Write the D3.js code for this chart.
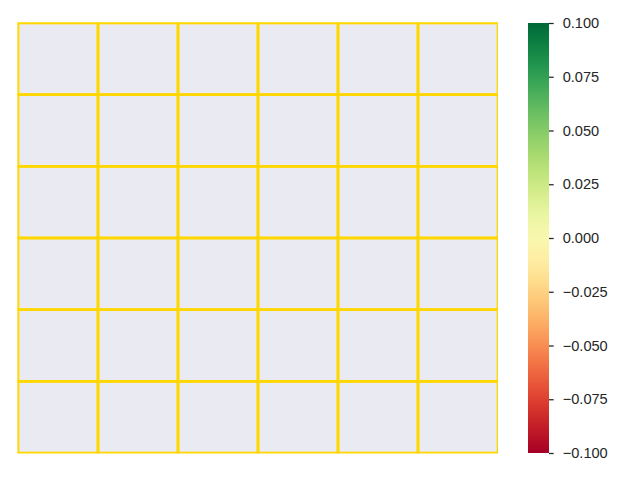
<!DOCTYPE html>
<meta charset="utf-8">
<script src="https://d3js.org/d3.v7.min.js"></script>
<style>
  body { margin: 0; background: #fff; }
  svg { display: block; }
</style>
<div id="divsvg"></div>
<script>
// heatmap data: every cell is empty (NaN), so only the background shows
var rowKeys = [0, 1, 2, 3, 4, 5];
var colKeys = [0, 1, 2, 3, 4, 5];
var cellValues = [
  [null, null, null, null, null, null],
  [null, null, null, null, null, null],
  [null, null, null, null, null, null],
  [null, null, null, null, null, null],
  [null, null, null, null, null, null],
  [null, null, null, null, null, null]
];
var colorDomain = [-0.1, 0.1];
var colorTicks = [-0.1, -0.075, -0.05, -0.025, 0, 0.025, 0.05, 0.075, 0.1];

var W = 640, H = 480;
var plot = {left: 18, top: 23, right: 498, bottom: 453};
var cbar = {left: 528, right: 549};

var svg = d3.select("#divsvg").append("svg")
  .attr("width", W).attr("height", H);

var x = d3.scaleBand().domain(colKeys).range([plot.left, plot.right]);
var y = d3.scaleBand().domain(rowKeys).range([plot.top, plot.bottom]);
var color = d3.scaleSequential(d3.interpolateRdYlGn).domain(colorDomain);

// clip a little looser on left/top/bottom, tight on the right like the original
svg.append("clipPath").attr("id", "clip")
  .append("rect")
  .attr("x", plot.left - 0.6).attr("y", plot.top - 0.8)
  .attr("width", plot.right - plot.left + 0.6).attr("height", plot.bottom - plot.top + 1.4);

// axes background (seaborn darkgrid face)
svg.append("rect")
  .attr("x", plot.left).attr("y", plot.top)
  .attr("width", plot.right - plot.left).attr("height", plot.bottom - plot.top)
  .attr("fill", "#eaeaf2");

var cells = [];
rowKeys.forEach(function(r, i) {
  colKeys.forEach(function(c, j) {
    cells.push({row: r, col: c, value: cellValues[i][j]});
  });
});

svg.append("g").attr("clip-path", "url(#clip)")
  .selectAll("rect")
  .data(cells)
  .enter().append("rect")
  .attr("x", function(d) { return x(d.col); })
  .attr("y", function(d) { return y(d.row); })
  .attr("width", x.bandwidth())
  .attr("height", y.bandwidth())
  .attr("fill", function(d) { return d.value == null ? "none" : color(d.value); })
  .attr("stroke", "gold")
  .attr("stroke-width", 2.67);

// colorbar
var cy = d3.scaleLinear().domain(colorDomain).range([plot.bottom, plot.top]);
var grad = svg.append("defs").append("linearGradient")
  .attr("id", "cgrad").attr("x1", 0).attr("y1", 1).attr("x2", 0).attr("y2", 0);
d3.range(0, 1.0001, 0.05).forEach(function(t) {
  grad.append("stop")
    .attr("offset", t)
    .attr("stop-color", d3.interpolateRdYlGn(t));
});
svg.append("rect")
  .attr("x", cbar.left).attr("y", plot.top)
  .attr("width", cbar.right - cbar.left).attr("height", plot.bottom - plot.top)
  .attr("fill", "url(#cgrad)");

var axis = svg.append("g")
  .attr("transform", "translate(" + cbar.right + ",0)")
  .call(d3.axisRight(cy).tickValues(colorTicks).tickFormat(d3.format(".3f"))
    .tickSize(4.7).tickPadding(9));
axis.select(".domain").remove();
axis.selectAll("line").attr("stroke", "#262626").attr("stroke-width", 1.25);
axis.selectAll("text")
  .attr("fill", "#262626")
  .style("font-family", "Arial, 'Liberation Sans', sans-serif")
  .style("font-size", "14.6px");
</script>
